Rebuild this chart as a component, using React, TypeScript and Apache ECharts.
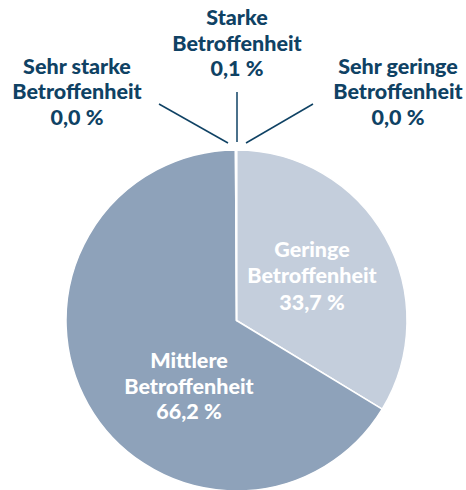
import React, { useEffect, useRef } from "react";
import * as echarts from "echarts";

const categories = [
  "Sehr geringe Betroffenheit",
  "Geringe Betroffenheit",
  "Mittlere Betroffenheit",
  "Starke Betroffenheit",
  "Sehr starke Betroffenheit",
];
const labelNames = [
  "Sehr geringe\nBetroffenheit",
  "Geringe\nBetroffenheit",
  "Mittlere\nBetroffenheit",
  "Starke\nBetroffenheit",
  "Sehr starke\nBetroffenheit",
];
const values = [0.0, 33.7, 66.2, 0.1, 0.0];
const colors = ["#c4cedc", "#c4cedc", "#8ea2ba", "#e4e9ef", "#8ea2ba"];

const DARK = "#0f4264";
const FONT = "Lato, 'Noto Sans', sans-serif";
const FS = 21.5;

const fmt = (v: number) => v.toFixed(1).replace(".", ",") + " %";

export default function App() {
  const ref = useRef<HTMLDivElement>(null);
  useEffect(() => {
    if (!ref.current) return;
    const chart = echarts.init(ref.current, null, { renderer: "svg" });
    const labelText = (i: number) => labelNames[i] + "\n" + fmt(values[i]);

    const outer: { i: number; x: number; y: number; line: number[] }[] = [
      { i: 4, x: 77, y: 91, line: [159, 104, 228, 143] },
      { i: 3, x: 237, y: 42.5, line: [237, 92, 237, 142] },
      { i: 0, x: 398, y: 91, line: [313, 104, 246, 143] },
    ];
    const inner: { i: number; x: number; y: number; lh: number }[] = [
      { i: 1, x: 312, y: 275, lh: 26.5 },
      { i: 2, x: 189, y: 385.5, lh: 25.5 },
    ];

    const graphic: any[] = [];
    outer.forEach((o) => {
      graphic.push({
        type: "line",
        shape: { x1: o.line[0], y1: o.line[1], x2: o.line[2], y2: o.line[3] },
        style: { stroke: DARK, lineWidth: 1.5 },
        z: 10,
      });
      graphic.push({
        type: "text",
        x: o.x,
        y: o.y,
        style: {
          text: labelText(o.i),
          fill: DARK,
          fontFamily: FONT,
          fontWeight: 900,
          fontSize: FS,
          lineHeight: 25.5,
          align: "center",
          verticalAlign: "middle",
        },
        z: 10,
      });
    });
    inner.forEach((o) => {
      graphic.push({
        type: "text",
        x: o.x,
        y: o.y,
        style: {
          text: labelText(o.i),
          fill: "#ffffff",
          fontFamily: FONT,
          fontWeight: 900,
          fontSize: FS,
          lineHeight: o.lh,
          align: "center",
          verticalAlign: "middle",
        },
        z: 10,
      });
    });

    chart.setOption({
      animation: false,
      backgroundColor: "#ffffff",
      series: [
        {
          type: "pie",
          center: [236.5, 320.5],
          radius: [0, 170.5],
          startAngle: 90,
          clockwise: true,
          silent: true,
          label: { show: false },
          labelLine: { show: false },
          itemStyle: { borderColor: "#ffffff", borderWidth: 1.5 },
          data: categories.map((c, i) => ({
            name: c,
            value: values[i],
            itemStyle: { color: colors[i] },
          })),
        },
      ],
      graphic,
    });
    return () => chart.dispose();
  }, []);
  return (
    <div
      ref={ref}
      style={{ position: "fixed", left: 0, top: 0, width: 466, height: 490 }}
    />
  );
}
